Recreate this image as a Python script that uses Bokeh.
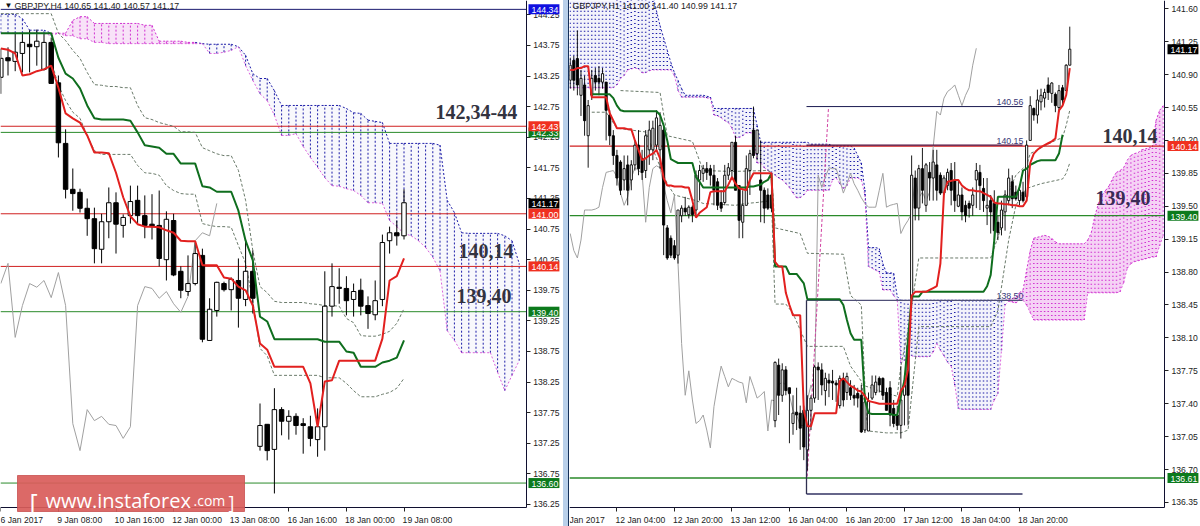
from bokeh.plotting import figure
from bokeh.layouts import row
from bokeh.models import Range1d, FixedTicker, Label, BoxAnnotation, Div, LinearAxis
from bokeh.embed import file_html
from bokeh.resources import INLINE

# ---------- left panel: GBPJPY H4 ----------
l_flag = "WKWWKWWKKK" "KKKKWWKWWK" "KKKWKKWWKW" "WKWKWKWKWK" "WKKKWWWKKW" "KKWWWKW"
l_high = [143.70,143.72,143.96,143.95,144.00,144.01,143.95,143.88,143.26,142.38,141.74,141.41,141.25,141.10,141.00,141.43,141.35,140.99,141.46,141.46,141.30,141.32,141.38,141.04,141.00,140.14,140.32,140.53,140.43,139.62,139.89,139.89,139.96,140.27,140.58,140.40,137.90,137.56,138.15,137.84,137.79,137.74,137.66,137.70,137.82,140.06,140.19,140.11,139.98,139.86,139.94,139.65,139.91,140.66,140.79,140.89,141.40]
l_top = [143.54,143.55,143.64,143.80,143.77,143.82,143.80,143.80,143.14,142.15,141.40,141.35,141.09,140.92,140.87,141.18,141.18,140.94,141.20,141.22,140.97,140.83,140.81,140.91,140.89,140.06,139.86,140.35,140.32,139.44,139.88,139.86,139.93,139.91,140.06,140.06,137.54,137.56,137.80,137.80,137.69,137.69,137.57,137.52,137.52,139.49,139.81,139.80,139.78,139.73,139.75,139.50,139.58,140.53,140.69,140.69,141.18]
l_bot = [143.23,143.50,143.49,143.62,143.73,143.73,143.36,143.13,142.16,141.40,141.33,141.09,140.92,140.43,140.42,140.87,140.83,140.81,140.97,140.97,140.81,140.79,140.27,140.25,140.00,139.75,139.73,139.86,138.95,138.93,139.42,139.76,139.76,139.62,139.60,139.62,137.20,137.13,137.15,137.61,137.61,137.54,137.54,137.33,137.31,137.52,139.49,139.78,139.58,139.60,139.49,139.37,139.35,139.60,140.56,140.64,140.64]
l_low = [142.96,143.26,143.33,143.31,143.31,143.42,143.34,143.13,141.92,141.25,141.05,141.02,140.64,140.19,140.19,140.60,140.35,140.61,140.84,140.84,140.60,140.58,140.14,139.91,139.98,139.62,139.66,139.83,138.90,138.93,139.32,139.73,139.42,139.14,139.49,139.37,137.13,136.97,136.43,137.38,137.31,137.39,137.08,137.20,137.03,137.13,139.32,139.53,139.34,139.32,139.34,139.12,139.26,139.49,140.35,140.48,140.58]
l_red = [143.70,143.68,143.62,143.26,143.28,143.33,143.36,143.42,143.06,142.64,142.56,142.49,142.28,142.00,142.00,141.99,141.67,141.27,140.96,140.83,140.79,140.79,140.78,140.73,140.69,140.56,140.55,140.55,140.16,140.16,140.16,139.96,139.94,139.81,139.75,139.50,138.88,138.78,138.50,138.50,138.50,138.50,138.50,138.23,137.52,138.26,138.28,138.60,138.60,138.60,138.60,138.60,138.60,138.96,139.91,139.98,140.27]
l_green = [143.95,143.95,143.95,143.95,143.95,143.95,143.95,143.95,143.55,143.29,143.21,143.05,142.77,142.56,142.54,142.54,142.54,142.54,142.52,142.33,142.12,142.10,142.08,141.98,141.98,141.82,141.82,141.82,141.45,141.43,141.36,141.36,141.36,141.05,140.56,140.24,139.32,139.24,138.95,138.95,138.95,138.95,138.95,138.95,138.95,138.91,138.91,138.91,138.75,138.73,138.50,138.50,138.50,138.57,138.60,138.65,138.93]
l_upper = [144.27,144.27,144.27,144.27,144.27,144.27,144.27,144.27,143.95,143.83,143.67,143.54,143.31,143.11,143.10,143.08,143.08,143.06,143.06,142.77,142.57,142.54,142.49,142.46,142.43,142.34,142.34,142.33,142.08,142.03,141.98,141.95,141.95,141.71,141.22,140.40,139.81,139.71,139.57,139.55,139.55,139.55,139.55,139.53,139.52,139.50,139.50,139.49,139.29,139.22,139.01,139.00,139.00,139.03,139.08,139.21,139.45]
l_lower_start = 7
l_lower = [143.50,143.10,142.85,142.66,142.56,142.28,142.03,141.97,141.97,141.97,141.97,141.97,141.79,141.67,141.66,141.63,141.46,141.38,141.33,141.32,141.32,140.84,140.81,140.79,140.79,140.78,140.48,140.19,139.58,138.80,138.68,138.36,138.36,138.36,138.36,138.36,138.36,138.36,138.32,138.32,138.32,138.23,138.11,138.01,138.01,138.01,138.05,138.08,138.15,138.31]
l_lag = [139.86,140.19,138.98,139.50,139.86,139.80,139.91,139.63,140.04,139.50,137.57,137.13,137.80,137.62,137.69,137.56,137.54,137.33,137.52,139.50,139.81,139.78,139.62,139.73,139.53,139.39,139.65,140.56,140.69,140.64,141.17]
l_cloud_top = [144.26,144.26,144.26,144.19,144.00,144.00,144.00,143.95,143.95,143.95,144.16,144.22,144.22,144.11,144.11,144.11,144.11,144.11,144.11,144.11,144.08,144.08,143.82,143.82,143.82,143.82,143.80,143.80,143.78,143.77,143.77,143.77,143.77,143.73,143.59,143.29,143.21,143.21,143.01,142.77,142.77,142.77,142.77,142.77,142.77,142.77,142.77,142.77,142.72,142.65,142.64,142.53,142.51,142.49,142.15,142.15,142.15,142.15,142.15,142.15,142.15,142.12,141.22,141.02,140.69,140.68,140.68,140.68,140.68,140.68,140.64,140.56,140.19]
l_cloud_bot = [143.95,143.95,143.95,143.95,143.95,143.95,143.95,143.91,143.95,143.91,143.91,143.86,143.86,143.80,143.80,143.78,143.78,143.78,143.78,143.78,143.78,143.78,143.78,143.78,143.78,143.78,143.78,143.78,143.78,143.62,143.62,143.64,143.67,143.73,143.42,143.18,142.96,142.85,142.61,142.28,142.28,142.31,142.10,141.92,141.76,141.59,141.46,141.45,141.41,141.38,141.30,141.18,141.18,141.17,140.89,140.79,140.68,140.64,140.56,140.45,140.29,140.07,139.09,138.93,138.73,138.73,138.73,138.73,138.73,138.41,138.11,138.36,138.60]
l_pink_from, l_pink_to = 8, 27
l_levels = [144.34, 142.43, 142.33, 141.00, 140.14, 139.40, 136.60]
l_level_colors = ["#1a1a70", "#d02020", "#2a8a2a", "#d02020", "#d02020", "#2a8a2a", "#2a8a2a"]
l_tags = [("144.34", 144.34, "#1010e0"), ("142.33", 142.33, "#0c7a1c"), ("142.43", 142.43, "#f03020"),
          ("141.17", 141.17, "#000000"), ("141.00", 141.00, "#f03020"), ("140.14", 140.14, "#f03020"),
          ("139.40", 139.40, "#0c7a1c"), ("136.60", 136.60, "#0c7a1c")]
l_yticks = [144.25,143.75,143.25,142.75,142.25,141.75,141.25,140.75,140.25,139.75,139.25,138.75,138.25,137.75,137.25,136.75,136.25]
l_xticks = [0, 8, 16, 24, 32, 40, 48, 56]
l_xlabels = ["6 Jan 2017", "9 Jan 08:00", "10 Jan 16:00", "12 Jan 00:00", "13 Jan 08:00", "16 Jan 16:00", "18 Jan 00:00", "19 Jan 08:00"]

# ---------- right panel: GBPJPY H1 ----------
r_flag = "WKKWKWWKKW" "KKKKKWKWWK" "KWWWWWKKKK" "WWKWKWWWKK" "KKKWWWKKWW" "WKWKKKKWKW" "KKWKKKWWWK" "KWKKKWKWKK" "KKWWWWKKKK" "KKWWKWKWKW" "KWKKWWKKWK" "KKWWKKWKKK" "WWWKKWKWWK" "WWWKWKWKWW"
r_high = [141.08,141.10,141.37,140.95,140.89,140.63,140.95,140.97,140.99,140.97,140.82,140.52,140.31,140.10,139.99,140.04,140.04,139.99,140.20,140.31,140.10,140.31,140.41,140.41,140.52,140.50,140.36,139.30,139.19,139.14,139.46,139.51,139.60,139.51,139.51,139.88,139.94,139.94,139.97,139.94,139.94,139.80,139.67,139.94,139.96,140.18,140.25,139.72,139.67,140.04,140.10,140.56,140.31,140.20,139.70,139.69,139.67,137.85,137.88,137.83,137.80,137.57,137.49,137.57,137.38,137.38,137.49,137.49,137.81,137.84,137.83,137.73,137.72,137.76,137.65,137.70,137.73,137.73,137.65,137.60,137.57,137.60,137.51,137.52,137.70,137.70,137.69,137.68,137.57,137.64,137.44,137.38,137.80,137.70,138.07,140.04,139.88,139.94,140.12,139.96,139.97,140.10,140.10,139.86,139.83,139.90,139.96,139.97,139.78,139.70,139.56,139.56,139.70,139.96,139.94,139.80,139.80,139.62,139.67,139.40,139.56,139.67,139.90,139.83,139.72,139.72,139.76,140.20,140.67,140.55,140.74,140.75,140.75,140.87,140.82,140.71,140.79,140.79,141.01,141.41]
r_top = [141.00,141.05,141.07,140.86,140.79,140.57,140.86,140.89,140.86,140.91,140.82,140.47,140.25,140.04,139.97,139.90,139.94,139.94,140.15,140.15,140.01,140.25,140.31,140.33,140.44,140.36,140.31,139.27,139.16,139.08,139.46,139.48,139.48,139.49,139.49,139.83,139.88,139.90,139.90,139.90,139.83,139.76,139.54,139.83,139.91,140.18,140.18,139.72,139.51,139.90,140.06,140.31,140.31,139.78,139.67,139.62,139.62,137.84,137.81,137.76,137.76,137.57,137.30,137.31,137.30,137.33,137.33,137.46,137.79,137.79,137.76,137.67,137.65,137.64,137.62,137.67,137.67,137.69,137.57,137.49,137.51,137.49,137.42,137.43,137.60,137.63,137.67,137.67,137.52,137.57,137.35,137.28,137.44,137.60,138.02,139.83,139.80,139.90,139.90,139.94,139.86,139.97,139.94,139.83,139.80,139.86,139.88,139.78,139.62,139.62,139.51,139.53,139.62,139.88,139.86,139.69,139.51,139.56,139.53,139.33,139.46,139.62,139.80,139.76,139.65,139.67,139.65,140.15,140.57,140.54,140.63,140.68,140.71,140.79,140.81,140.69,140.73,140.76,141.00,141.17]
r_bot = [140.84,140.84,140.79,140.68,140.41,140.25,140.68,140.82,140.82,140.82,140.52,140.25,140.04,139.80,139.67,139.78,139.67,139.78,139.94,139.90,139.86,139.88,140.10,140.10,140.15,140.10,139.30,138.95,138.98,138.95,138.98,139.40,139.44,139.41,139.41,139.46,139.78,139.85,139.86,139.83,139.67,139.51,139.48,139.54,139.83,139.88,139.67,139.35,139.33,139.51,139.88,140.04,140.06,139.67,139.48,139.48,139.48,137.22,137.49,137.49,137.54,137.51,137.19,137.28,137.14,136.94,136.91,137.33,137.46,137.76,137.60,137.54,137.62,137.62,137.60,137.38,137.44,137.52,137.49,137.46,137.46,137.10,137.12,137.11,137.46,137.52,137.60,137.49,137.33,137.28,137.19,137.17,137.17,137.49,137.49,138.52,139.48,139.48,139.67,139.51,139.80,139.80,139.67,139.64,139.64,139.72,139.67,139.56,139.50,139.44,139.40,139.48,139.51,139.78,139.72,139.56,139.48,139.44,139.24,139.22,139.27,139.44,139.56,139.58,139.58,139.56,139.56,139.60,140.20,140.47,140.47,140.61,140.65,140.71,140.70,140.57,140.55,140.63,140.73,141.00]
r_low = [140.75,140.73,140.68,140.46,140.25,139.91,140.63,140.73,140.68,140.75,140.20,140.15,139.94,139.72,139.62,139.67,139.51,139.67,139.88,139.83,139.78,139.80,139.94,139.99,140.10,139.90,138.98,138.93,138.95,138.93,138.89,139.33,139.40,139.37,139.33,139.40,139.56,139.76,139.78,139.72,139.51,139.46,139.44,139.51,139.78,139.78,139.67,139.16,139.16,139.51,139.62,140.01,139.99,139.33,139.32,139.46,139.44,137.15,137.28,137.42,137.49,136.98,137.07,137.12,136.91,136.80,136.69,137.12,137.41,137.44,137.49,137.38,137.47,137.44,137.42,137.35,137.37,137.44,137.44,137.38,137.36,137.09,137.09,137.11,137.44,137.49,137.52,137.44,137.33,137.16,137.15,137.12,137.03,137.17,137.17,138.46,139.35,139.35,139.53,139.44,139.56,139.56,139.56,139.62,139.62,139.67,139.51,139.44,139.49,139.35,139.33,139.38,139.40,139.48,139.46,139.44,139.30,139.21,139.14,139.14,139.19,139.24,139.51,139.48,139.56,139.51,139.54,139.56,140.20,140.41,140.38,140.52,140.55,140.63,140.60,140.50,140.50,140.57,140.73,141.00]
r_red = [140.95,140.95,140.97,140.97,140.99,140.99,140.66,140.66,140.66,140.66,140.66,140.49,140.41,140.33,140.33,140.33,140.32,140.32,140.20,140.10,139.99,140.01,140.04,140.06,140.10,140.01,139.80,139.72,139.72,139.71,139.71,139.71,139.70,139.70,139.56,139.38,139.43,139.46,139.49,139.65,139.66,139.66,139.66,139.66,139.73,139.81,139.74,139.69,139.68,139.67,139.78,139.85,139.85,139.85,139.85,139.85,139.85,138.91,138.86,138.86,138.58,138.45,138.34,138.34,138.34,137.33,137.16,137.16,137.30,137.30,137.30,137.30,137.30,137.30,137.30,137.64,137.67,137.63,137.59,137.57,137.54,137.53,137.48,137.43,137.42,137.41,137.40,137.40,137.40,137.40,137.40,137.40,137.54,137.59,137.76,138.55,138.59,138.59,138.59,138.59,138.61,138.63,138.65,138.89,139.64,139.76,139.77,139.78,139.78,139.72,139.69,139.67,139.67,139.66,139.66,139.64,139.62,139.60,139.54,139.53,139.53,139.52,139.52,139.51,139.51,139.50,139.50,139.56,139.96,140.06,140.10,140.13,140.15,140.17,140.19,140.22,140.52,140.57,140.68,140.97]
r_green_start = 6
r_green = [140.69,140.69,140.69,140.69,140.69,140.69,140.65,140.57,140.52,140.51,140.51,140.51,140.51,140.51,140.51,140.51,140.51,140.51,140.51,140.47,140.36,140.20,140.00,139.98,139.96,139.96,139.96,139.96,139.96,139.81,139.76,139.70,139.70,139.70,139.70,139.70,139.70,139.70,139.70,139.70,139.70,139.70,139.70,139.70,139.71,139.71,139.72,139.73,139.76,139.78,139.85,138.86,138.86,138.86,138.86,138.78,138.78,138.78,138.73,138.68,138.51,138.51,138.51,138.51,138.51,138.51,138.51,138.51,138.51,138.51,138.45,138.29,138.15,138.08,138.08,138.08,137.44,137.30,137.29,137.29,137.29,137.29,137.29,137.29,137.28,137.28,137.48,137.65,138.08,138.54,138.54,138.54,138.59,138.59,138.59,138.59,138.59,138.59,138.59,138.59,138.59,138.59,138.59,138.59,138.59,138.59,138.59,138.59,138.59,138.59,138.65,138.77,139.14,139.60,139.60,139.60,139.60,139.60,139.60,139.70,139.88,139.90,139.94,139.96,139.98,139.99,139.99,139.99,139.99,139.99,140.06,140.26]
r_upper_idx = [14,25,27,34,37,45,55,56,57,64,66,76,78,81,82,88,91,92,94,97,117,118,120,121,124,127,128,135,137,138,139]
r_upper = [140.73,140.71,140.25,140.19,139.88,139.87,139.88,139.86,139.27,139.21,139.00,138.99,138.55,138.45,137.59,137.51,137.48,137.80,138.18,138.95,138.95,139.06,139.28,139.56,139.83,139.94,140.06,140.20,140.23,140.36,140.52]
r_lower_idx = [6,10,13,21,27,29,35,37,46,49,52,56,57,60,62,66,76,78,81,83,88,92,94,97,117,119,122,124,127,131,137,138,139]
r_lower = [140.50,140.50,140.33,140.29,139.74,139.62,139.56,139.53,139.51,139.53,139.54,139.56,138.46,138.46,138.36,138.01,138.01,137.80,137.64,137.11,137.09,137.09,137.12,138.22,138.22,138.39,139.14,139.51,139.69,139.74,139.79,139.85,139.96]
r_lag = [139.21,139.03,138.95,139.14,139.46,139.46,139.46,139.47,139.49,139.70,139.86,139.87,139.88,139.81,139.64,139.51,139.60,139.80,139.91,139.88,139.85,139.33,139.70,139.90,139.93,139.91,139.72,139.56,139.43,139.62,138.89,138.04,137.49,137.75,137.44,137.19,137.22,137.28,137.12,136.93,137.37,137.60,137.80,137.69,137.58,137.67,137.65,137.63,137.62,137.41,137.69,137.58,137.46,137.49,137.53,137.11,137.44,137.43,137.60,137.63,137.60,137.49,137.33,137.28,137.17,137.17,137.44,137.60,137.49,139.83,139.70,139.81,139.91,139.90,139.90,139.78,139.64,139.74,139.85,139.74,139.67,139.59,139.53,139.49,139.49,139.49,139.67,139.85,139.49,139.51,139.52,139.53,139.21,139.29,139.35,139.43,139.80,139.59,139.65,139.56,139.65,140.13,140.51,140.47,140.65,140.72,140.75,140.79,140.68,140.57,140.68,140.76,141.00,141.18]
r_cloud_top = [141.75,141.75,141.75,141.75,141.75,141.75,141.75,141.75,141.75,141.75,141.75,141.75,141.75,141.75,141.75,141.75,141.75,141.75,141.75,141.75,141.75,141.75,141.75,141.75,141.58,141.42,141.29,141.16,141.03,140.92,140.84,140.75,140.68,140.68,140.68,140.68,140.68,140.68,140.67,140.66,140.54,140.54,140.54,140.54,140.54,140.54,140.54,140.54,140.54,140.54,140.54,140.54,140.36,140.18,140.18,140.18,140.18,140.18,140.18,140.18,140.18,140.18,140.18,140.18,140.18,140.18,140.18,140.16,140.16,140.16,140.16,140.16,140.16,140.14,140.14,140.14,140.14,140.14,140.14,140.12,140.04,139.96,139.67,139.06,139.06,139.06,139.05,138.89,138.79,138.79,138.79,138.54,138.50,138.50,138.50,138.50,138.50,138.50,138.50,138.50,138.50,138.50,138.50,138.50,138.50,138.50,138.50,138.50,138.50,138.50,138.50,138.50,138.50,138.50,138.50,138.50,138.50,138.50,138.50,138.50,138.50,138.50,138.51,138.52,138.53,138.58,138.61,138.82,139.03,139.16,139.17,139.18,139.19,139.18,139.16,139.12,139.10,139.10,139.10,139.10,139.10,139.10,139.10,139.10,139.14,139.22,139.40,139.53,139.62,139.67,139.72,139.80,139.86,139.88,139.91,139.99,140.04,140.06,140.07,140.10,140.11,140.12,140.13,140.41,140.52,140.57]
r_cloud_bot = [140.76,140.76,140.76,140.76,140.76,140.76,140.76,140.76,140.76,140.76,140.76,140.76,140.76,140.79,140.86,140.89,140.95,140.96,140.97,140.96,140.92,140.92,140.94,140.95,140.95,140.95,140.95,140.95,140.95,140.89,140.73,140.66,140.66,140.66,140.66,140.66,140.66,140.66,140.65,140.65,140.47,140.46,140.44,140.41,140.39,140.33,140.23,140.23,140.25,140.28,140.28,140.28,139.96,139.96,139.91,139.88,139.86,139.83,139.80,139.78,139.74,139.70,139.64,139.59,139.59,139.62,139.67,139.67,139.67,139.67,139.67,139.67,139.67,139.78,139.80,139.74,139.69,139.72,139.80,139.80,139.80,139.78,139.62,138.86,138.84,138.82,138.80,138.61,138.61,138.61,138.55,138.50,137.83,137.86,137.90,137.91,137.90,137.90,137.90,137.90,137.90,137.95,138.04,137.97,137.91,137.84,137.80,137.60,137.35,137.34,137.34,137.34,137.34,137.34,137.34,137.34,137.34,137.34,137.44,137.51,137.97,138.45,138.49,138.48,138.47,138.50,138.50,138.45,138.37,138.29,138.29,138.29,138.29,138.29,138.29,138.29,138.29,138.29,138.29,138.29,138.29,138.29,138.29,138.29,138.58,138.58,138.58,138.58,138.58,138.58,138.58,138.58,138.58,138.59,138.69,138.84,138.89,138.91,138.92,138.93,138.94,138.95,138.96,138.96,139.08,139.19]
r_pink_from = 122
r_levels = [140.14, 139.40, 136.61]
r_level_colors = ["#d02020", "#2a8a2a", "#2a8a2a"]
r_tags = [("141.17", 141.17, "#000000"), ("140.14", 140.14, "#f03020"), ("139.40", 139.40, "#0c7a1c"), ("136.61", 136.61, "#0c7a1c")]
r_yticks = [141.60,141.25,140.90,140.55,140.20,139.85,139.50,139.15,138.80,138.45,138.10,137.75,137.40,137.05,136.70,136.35]
r_xticks = [13, 29, 45, 61, 77, 93, 109, 125]
r_xlabels = ["Jan 2017", "12 Jan 04:00", "12 Jan 20:00", "13 Jan 12:00", "16 Jan 04:00", "16 Jan 20:00", "17 Jan 12:00", "18 Jan 04:00", "18 Jan 20:00"]
r_trend_levels = [140.56, 140.15, 138.50, 136.44]
r_trend_names = ["140.56", "140.15", "138.50"]

# reference pixel -> data, used only to place texts and decorations
W, H, SPLIT = 1200, 526, 569
lx = lambda px: (px - 0.3) / 7.2
ly = lambda py: 144.485 - 0.01634 * py
rx = lambda px: (px - 569.7) / 3.594
ry = lambda py: 141.688 - 0.010634 * py
FONT = "Liberation Sans"
BLUE, PINK, RED, GREEN, GREY = "#1c1ca8", "#d030d0", "#e2201f", "#0f6e1e", "#a0a0a0"


def base(width, fx, fy, plot_right, plot_bottom, px_right, yticks, xticks, xcenters, xlabels):
    """The frame fills the figure; both axes are pinned inside it, so tags and tick labels can share that space."""
    p = figure(width=width, height=H, x_range=Range1d(fx(px_right[0]), fx(px_right[1])),
               y_range=Range1d(fy(H), fy(0)), x_axis_location=None, y_axis_location=None,
               toolbar_location=None, output_backend="svg",
               min_border_left=0, min_border_top=0, min_border_right=0, min_border_bottom=0,
               background_fill_color="white", border_fill_color="white", outline_line_color=None)
    p.grid.visible = False
    yax = LinearAxis(fixed_location=fx(plot_right), bounds=(fy(plot_bottom), fy(0)),
                     ticker=FixedTicker(ticks=yticks),
                     major_label_overrides={t: f"{t:.2f}" for t in yticks})
    # labels are centred by the axis, so each sits to the right of its own tick mark (a minor tick)
    xax = LinearAxis(fixed_location=fy(plot_bottom), bounds=(fx(px_right[0]), fx(plot_right)),
                     ticker=FixedTicker(ticks=xcenters, minor_ticks=xticks),
                     major_label_overrides={c: s for c, s in zip(xcenters, xlabels)})
    for ax in (xax, yax):
        ax.axis_line_color = "#101030"
        ax.axis_line_width = 1
        ax.major_label_text_font = FONT
        ax.major_label_text_font_size = "8.6px"
        ax.major_label_text_color = "#222222"
        ax.major_label_standoff = 3
        ax.major_tick_line_color = "#222222"
        ax.minor_tick_line_color = "#222222"
    xax.major_tick_in = 0
    xax.major_tick_out = 0
    xax.minor_tick_in = 0
    xax.minor_tick_out = 4
    yax.major_tick_in = 0
    yax.major_tick_out = 4
    yax.minor_tick_line_color = None
    p.add_layout(yax, "right")
    p.add_layout(xax, "below")
    return p


def cloud(p, tops, bots, pink, dash, width, pink_alpha, blue_alpha):
    idx = list(range(len(tops)))
    colors = [PINK if pink(i) else BLUE for i in idx]
    # a faint wash under the dots, one per run of bars of the same colour
    start = 0
    for i in idx[1:] + [len(idx)]:
        if i == len(idx) or pink(i) != pink(start):
            xs = idx[start:i]
            p.varea(xs, bots[start:i], tops[start:i], fill_color=colors[start],
                    fill_alpha=pink_alpha if pink(start) else blue_alpha)
            start = i
    p.segment(idx, bots, idx, tops, line_color=colors, line_dash=dash, line_width=width)
    for i0, i1 in zip(idx[:-1], idx[1:]):
        p.segment(i0, tops[i0], i1, tops[i1], line_color=colors[i1], line_width=1, line_dash="2 2")
        p.segment(i0, bots[i0], i1, bots[i1], line_color=PINK, line_width=1, line_dash="2 2", line_alpha=0.75)


def levels(p, values, colors, xr, width):
    p.segment([xr[0]] * len(values), values, [xr[1]] * len(values), values, line_color=colors, line_width=width)


def candles(p, high, top, bot, low, flag, width, lw):
    idx = list(range(len(high)))
    p.segment(idx, low, idx, high, line_color="#000000", line_width=lw)
    fills = ["#ffffff" if f == "W" else "#000000" for f in flag]
    p.vbar(idx, width, bot, top, fill_color=fills, line_color="#000000", line_width=lw)


def text(p, x, y, s, size, color="#222222", font=FONT, style="normal", align="left", base_="middle"):
    p.add_layout(Label(x=x, y=y, text=s, text_font=font, text_font_size=size, text_color=color,
                       text_font_style=style, text_align=align, text_baseline=base_))


def tag(p, x, y, s, color):
    p.add_layout(Label(x=x, y=y, text=s, text_font=FONT, text_font_size="8.8px", text_color="#ffffff",
                       text_align="left", text_baseline="middle", background_fill_color=color,
                       padding=(3, 1, 3, 1)))


# ---- left figure ----
lw_xcenters = [t + d for t, d in zip(l_xticks, [2.7, 2.96, 3.26, 3.26, 3.26, 3.26, 3.26, 3.26])]
lxr = (lx(0), lx(525.7))
p1 = base(563, lx, ly, 525.7, 507, (0, 563), l_yticks, l_xticks, lw_xcenters, l_xlabels)
cloud(p1, l_cloud_top, l_cloud_bot, lambda i: l_pink_from <= i <= l_pink_to, "2 2", 1, 0.14, 0.03)
levels(p1, l_levels, l_level_colors, lxr, 1)
p1.line(list(range(len(l_lag))), l_lag, line_color=GREY, line_width=1)
p1.line(list(range(len(l_upper))), l_upper, line_color="#6a7a6a", line_width=1, line_dash="3 2")
p1.line(list(range(l_lower_start, l_lower_start + len(l_lower))), l_lower, line_color="#6a7a6a", line_width=1, line_dash="3 2")
candles(p1, l_high, l_top, l_bot, l_low, l_flag, 0.62, 1)
p1.line(list(range(len(l_green))), l_green, line_color=GREEN, line_width=2)
p1.line(list(range(len(l_red))), l_red, line_color=RED, line_width=2)
for s, v, c in l_tags:
    tag(p1, lx(528), v, s, c)
text(p1, lx(4), ly(5), "\u25BC", "8px", "#111111")
text(p1, lx(14), ly(5), "GBPJPY,H4  140.65 141.40 140.57 141.17", "8.8px")
SERIF = "Liberation Serif"
text(p1, lx(435), ly(111), "142,34-44", "20px", "#33333f", SERIF, "bold")
text(p1, lx(458), ly(250), "140,14", "20px", "#33333f", SERIF, "bold")
text(p1, lx(456), ly(295), "139,40", "20px", "#33333f", SERIF, "bold")
p1.add_layout(BoxAnnotation(left=lx(17), right=lx(244), top=ly(475), bottom=ly(511),
                            fill_color="#d95c5a", fill_alpha=0.92, line_color="#c85050", line_alpha=0.8))
text(p1, lx(29), ly(501), "[", "25px", "#ffffff", "Open Sans", base_="alphabetic")
text(p1, lx(45), ly(500), "www.instaforex", "20px", "#ffffff", "Open Sans", base_="alphabetic")
text(p1, lx(193), ly(500), ".com", "14px", "#ffffff", "Open Sans", base_="alphabetic")
text(p1, lx(228), ly(501), "]", "18px", "#ffffff", "Open Sans", base_="alphabetic")

# ---- separator ----
sep = Div(width=SPLIT - 563, height=H, margin=0,
          styles={"background": "#b9d0ea", "border-right": "1px solid #14305a", "box-sizing": "border-box"})

# ---- right figure ----
rw_xcenters = [4.5] + [t + 6.54 for t in r_xticks]
rxr = (rx(569), rx(1164))
p2 = base(W - SPLIT, rx, ry, 1164, 507, (569, 1200), r_yticks, r_xticks, rw_xcenters, r_xlabels)
cloud(p2, r_cloud_top, r_cloud_bot, lambda i: i >= r_pink_from, "1 3", 1.5, 0.22, 0.05)
levels(p2, r_levels, r_level_colors, rxr, 1.3)
p2.line(list(range(len(r_lag))), r_lag, line_color=GREY, line_width=1)
p2.segment(rx(806.7), ry(476), rx(828), ry(107), line_color="#d040a0", line_width=1, line_dash="3 2")
p2.line(r_upper_idx, r_upper, line_color="#6a7a6a", line_width=1, line_dash="3 2")
p2.line(r_lower_idx, r_lower, line_color="#6a7a6a", line_width=1, line_dash="3 2")
candles(p2, r_high, r_top, r_bot, r_low, r_flag, 0.6, 0.9)
tx0, tx1 = rx(806), rx(1022)
p2.segment(tx0, r_trend_levels[0], tx1, r_trend_levels[0], line_color="#1a1a50", line_width=1)
p2.segment(tx0, r_trend_levels[1], tx1, r_trend_levels[1], line_color="#501040", line_width=1.3)
p2.segment(tx0, r_trend_levels[2], tx1, r_trend_levels[2], line_color="#505078", line_width=1.3)
p2.segment(tx0, r_trend_levels[3], tx1, r_trend_levels[3], line_color="#66668a", line_width=1.8)
p2.segment(tx0, r_trend_levels[2], tx0, r_trend_levels[3], line_color="#303050", line_width=1.3)
p2.line(list(range(r_green_start, r_green_start + len(r_green))), r_green, line_color=GREEN, line_width=2)
p2.line(list(range(len(r_red))), r_red, line_color=RED, line_width=2)
for s, v, c in r_tags:
    tag(p2, rx(1167), v, s, c)
text(p2, rx(572), ry(5), "GBPJPY,H1  141.00 141.40 140.99 141.17", "8.8px")
for s, py in zip(r_trend_names, [101, 140, 295]):
    text(p2, rx(996), ry(py), s, "8.8px", "#3a3a78")
text(p2, rx(1102), ry(135), "140,14", "20px", "#33333f", SERIF, "bold")
text(p2, rx(1095), ry(197), "139,40", "20px", "#3a2a55", SERIF, "bold")

layout = row(p1, sep, p2, spacing=0)
open("out.html", "w").write(file_html(layout, INLINE))
